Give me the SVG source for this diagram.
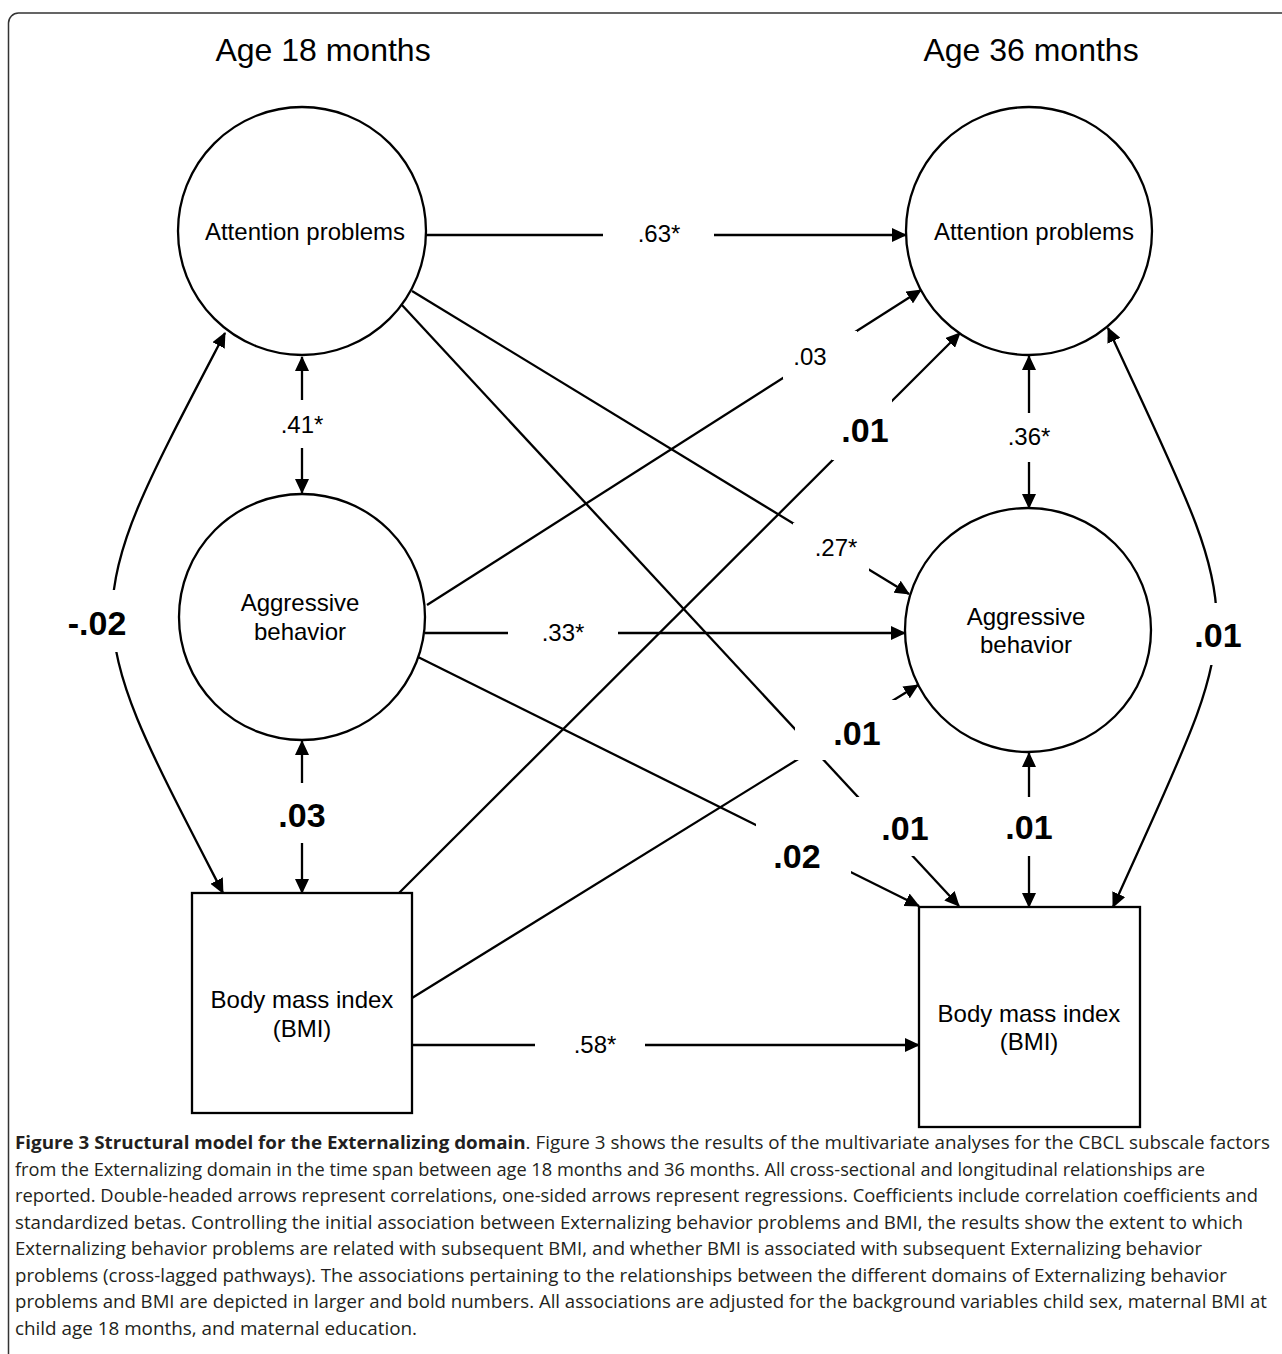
<svg xmlns="http://www.w3.org/2000/svg" width="1282" height="1354" viewBox="0 0 1282 1354">
<style>
.c{stroke:#000;stroke-width:2.3;fill:none}
.n{stroke:#000;stroke-width:2.3;fill:#fff}
.t{font-family:"Liberation Sans",Arial,sans-serif;font-size:24px;fill:#000;text-anchor:middle}
.b{font-family:"Liberation Sans",Arial,sans-serif;font-size:34px;font-weight:bold;fill:#000;text-anchor:middle}
.h{font-family:"Liberation Sans",Arial,sans-serif;font-size:32px;fill:#000;text-anchor:middle}
.bg{fill:#fff;stroke:none}
.cap{font-family:"Open Sans","Noto Sans",sans-serif;font-size:17.5px;fill:#231f20}
</style>
<defs>
<marker id="ah" viewBox="0 0 15 14" refX="14" refY="7" markerWidth="15" markerHeight="14" markerUnits="userSpaceOnUse" orient="auto-start-reverse"><path d="M0,0 L15,7 L0,14 z" fill="#000"/></marker>
</defs>
<rect x="8.5" y="13" width="1300" height="1370" rx="10" fill="none" stroke="#333" stroke-width="1.5"/>
<text class="h" x="323" y="61">Age 18 months</text>
<text class="h" x="1031" y="61">Age 36 months</text>

<g id="connectors">
<path class="c" d="M302 357 L302 493" marker-start="url(#ah)" marker-end="url(#ah)"/>
<path class="c" d="M302 741 L302 893" marker-start="url(#ah)" marker-end="url(#ah)"/>
<path class="c" d="M1029 356 L1029 508" marker-start="url(#ah)" marker-end="url(#ah)"/>
<path class="c" d="M1029 753 L1029 907" marker-start="url(#ah)" marker-end="url(#ah)"/>
<path class="c" d="M225 333 C75 620 75 606 223 893" marker-start="url(#ah)" marker-end="url(#ah)"/>
<path class="c" d="M1108 328 C1252 640 1252 598 1113 907" marker-start="url(#ah)" marker-end="url(#ah)"/>
<path class="c" d="M426 235 L906 235" marker-end="url(#ah)"/>
<path class="c" d="M425 633 L905 633" marker-end="url(#ah)"/>
<path class="c" d="M412 1045 L919 1045" marker-end="url(#ah)"/>
<path class="c" d="M412 291 L909 594" marker-end="url(#ah)"/>
<path class="c" d="M401 304 L959 906" marker-end="url(#ah)"/>
<path class="c" d="M427 605 L921 290" marker-end="url(#ah)"/>
<path class="c" d="M418 657 L919 906" marker-end="url(#ah)"/>
<path class="c" d="M399 893 L960 333" marker-end="url(#ah)"/>
<path class="c" d="M412 998 L918 685" marker-end="url(#ah)"/>
</g>

<g id="labels">
<rect class="bg" x="603" y="220" width="111" height="32"/><text class="t" x="659" y="242">.63*</text>
<rect class="bg" x="508" y="618" width="110" height="32"/><text class="t" x="563" y="641">.33*</text>
<rect class="bg" x="535" y="1030" width="110" height="32"/><text class="t" x="595" y="1053">.58*</text>
<rect class="bg" x="277" y="400" width="50" height="48"/><text class="t" x="302" y="433">.41*</text>
<rect class="bg" x="1004" y="413" width="50" height="49"/><text class="t" x="1029" y="445">.36*</text>
<rect class="bg" x="793" y="523" width="76" height="48"/><text class="t" x="836" y="556">.27*</text>
<rect class="bg" x="783" y="331" width="74" height="48"/><text class="t" x="810" y="365">.03</text>
<rect class="bg" x="832" y="398" width="60" height="62"/><text class="b" x="865" y="442">.01</text>
<rect class="bg" x="795" y="700" width="101" height="60"/><text class="b" x="857" y="745">.01</text>
<rect class="bg" x="855" y="797" width="100" height="59"/><text class="b" x="905" y="840">.01</text>
<rect class="bg" x="756" y="822" width="95" height="55"/><text class="b" x="797" y="868">.02</text>
<rect class="bg" x="1000" y="797" width="58" height="59"/><text class="b" x="1029" y="839">.01</text>
<rect class="bg" x="275" y="783" width="54" height="60"/><text class="b" x="302" y="827">.03</text>
<rect class="bg" x="60" y="590" width="75" height="62"/><text class="b" x="97" y="635">-.02</text>
<rect class="bg" x="1190" y="603" width="58" height="62"/><text class="b" x="1218" y="647">.01</text>
</g>

<g id="attn18"><circle class="n" cx="302" cy="231" r="124"/><text class="t" x="305" y="240">Attention problems</text></g>
<g id="aggr18"><circle class="n" cx="302" cy="617" r="123"/><text class="t" x="300" y="611">Aggressive</text><text class="t" x="300" y="640">behavior</text></g>
<g id="bmi18"><rect class="n" x="192" y="893" width="220" height="220"/><text class="t" x="302" y="1008">Body mass index</text><text class="t" x="302" y="1037">(BMI)</text></g>
<g id="attn36"><ellipse class="n" cx="1029" cy="231" rx="123" ry="124"/><text class="t" x="1034" y="240">Attention problems</text></g>
<g id="aggr36"><ellipse class="n" cx="1028" cy="630" rx="123" ry="122"/><text class="t" x="1026" y="625">Aggressive</text><text class="t" x="1026" y="653">behavior</text></g>
<g id="bmi36"><rect class="n" x="919" y="907" width="221" height="220"/><text class="t" x="1029" y="1022">Body mass index</text><text class="t" x="1029" y="1050">(BMI)</text></g>

<g id="caption">
<text class="cap" x="15" y="1149" textLength="1255" lengthAdjust="spacingAndGlyphs"><tspan font-weight="bold">Figure 3 Structural model for the Externalizing domain</tspan>. Figure 3 shows the results of the multivariate analyses for the CBCL subscale factors</text>
<text class="cap" x="15" y="1175.5" textLength="1190" lengthAdjust="spacingAndGlyphs">from the Externalizing domain in the time span between age 18 months and 36 months. All cross-sectional and longitudinal relationships are</text>
<text class="cap" x="15" y="1202" textLength="1243" lengthAdjust="spacingAndGlyphs">reported. Double-headed arrows represent correlations, one-sided arrows represent regressions. Coefficients include correlation coefficients and</text>
<text class="cap" x="15" y="1228.5" textLength="1228" lengthAdjust="spacingAndGlyphs">standardized betas. Controlling the initial association between Externalizing behavior problems and BMI, the results show the extent to which</text>
<text class="cap" x="15" y="1255" textLength="1187" lengthAdjust="spacingAndGlyphs">Externalizing behavior problems are related with subsequent BMI, and whether BMI is associated with subsequent Externalizing behavior</text>
<text class="cap" x="15" y="1281.5" textLength="1212" lengthAdjust="spacingAndGlyphs">problems (cross-lagged pathways). The associations pertaining to the relationships between the different domains of Externalizing behavior</text>
<text class="cap" x="15" y="1308" textLength="1252" lengthAdjust="spacingAndGlyphs">problems and BMI are depicted in larger and bold numbers. All associations are adjusted for the background variables child sex, maternal BMI at</text>
<text class="cap" x="15" y="1334.5" textLength="402" lengthAdjust="spacingAndGlyphs">child age 18 months, and maternal education.</text>
</g>
</svg>
